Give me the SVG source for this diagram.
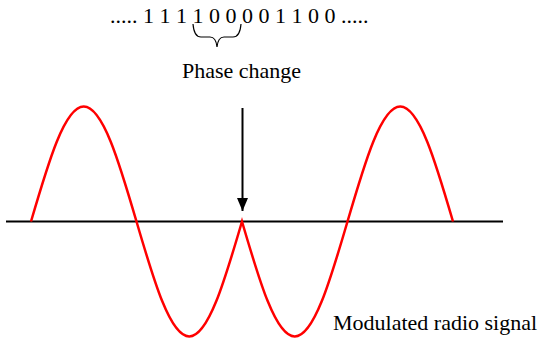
<svg xmlns="http://www.w3.org/2000/svg" width="542" height="342" viewBox="0 0 542 342">
<style>
.wave{fill:none;stroke:#ff0000;stroke-width:2.5;stroke-linejoin:miter}
.ln{fill:none;stroke:#000;stroke-width:2}
.brace{fill:none;stroke:#000;stroke-width:1.2}
</style>
<defs>
<marker id="ah" markerWidth="13" markerHeight="11" refX="13" refY="5.5" orient="auto" markerUnits="userSpaceOnUse" viewBox="0 0 13 11">
<path d="M0,0 L13,5.5 L0,11 Z" fill="#000"/>
</marker>
</defs>
<g id="bits">
<text font-family="'Liberation Serif', serif" font-size="22" fill="#000" x="110" y="23" xml:space="preserve">..... 1 1 1 1 0 0 0 0 1 1 0 0 .....</text>
<path class="brace" d="M193,24 Q194,37 201,37 L210,37 Q216,37 217,47 Q218,37 224,37 L233,37 Q240,37 241,24"/>
</g>
<g id="phase-label">
<text font-family="'Liberation Serif', serif" font-size="22" fill="#000" x="182" y="78">Phase change</text>
</g>
<g id="signal-label">
<text font-family="'Liberation Serif', serif" font-size="22" fill="#000" x="333" y="330">Modulated radio signal</text>
</g>
<g id="axis">
<line class="ln" x1="6" y1="221.5" x2="503" y2="221.5"/>
</g>
<g id="signal">
<path class="wave" d="M31,221.5 c17.2,-58.91 33.66,-115 52.75,-115 c19.09,0 35.55,56.09 52.75,115 c17.2,58.91 33.66,115 52.75,115 c19.09,0 35.55,-56.09 52.75,-115 c17.2,58.91 33.66,115 52.75,115 c19.09,0 35.55,-56.09 52.75,-115 c17.2,-58.91 33.66,-115 52.75,-115 c19.09,0 35.55,56.09 52.75,115"/>
</g>
<g id="connectors">
<line class="ln" x1="242.5" y1="108" x2="242.5" y2="211" marker-end="url(#ah)"/>
</g>
</svg>
